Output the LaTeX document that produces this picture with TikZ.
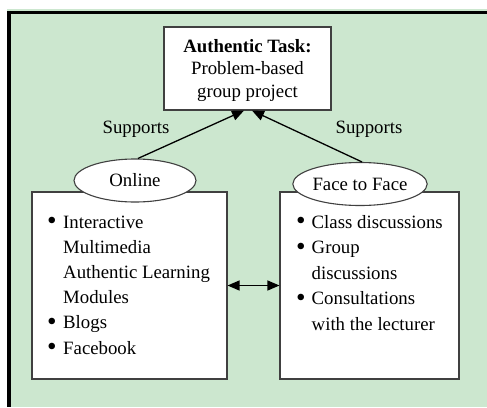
\documentclass[tikz,border=0pt]{standalone}
\usepackage{fontspec}
\usepackage{graphicx}
\setmainfont{Liberation Serif}
\usetikzlibrary{arrows.meta,shapes.geometric}
\definecolor{panelgreen}{RGB}{204,231,207}
% one bulleted paragraph with a hanging indent
\newcommand{\bigdot}{\raisebox{-1.6pt}{\scalebox{1.45}{•}}}
\newcommand{\bulletline}[2]{\par\hangindent=#1\hangafter=1\noindent\makebox[#1][l]{\bigdot}#2}
\begin{document}
\begin{tikzpicture}[x=1pt,y=-1pt,
  card/.style={draw=black!75, line width=1.1pt, fill=white, inner sep=0pt},
  tag/.style={ellipse, draw=black!75, line width=1.1pt, fill=white,
    minimum width=122pt, minimum height=43pt, inner sep=0pt,
    font=\fontsize{18.8}{22}\selectfont},
  link/.style={line width=1.3pt, -{Triangle[length=12pt,width=10pt]}},
  twoway/.style={line width=1.3pt, {Triangle[length=12pt,width=10pt]}-{Triangle[length=12pt,width=10pt]}},
  body/.style={inner sep=0pt, anchor=base west, font=\fontsize{18.8}{25.3}\selectfont},
  caption/.style={inner sep=0pt, anchor=base, font=\fontsize{18.8}{22}\selectfont}]

\useasboundingbox (0,0) rectangle (487,407);
\fill[white] (0,0) rectangle (487,407);

% green panel with its thick top and left border
\fill[panelgreen] (7,9) rectangle (487,407);
\draw[line width=3.2pt] (7,12.5) -- (487,12.5);
\draw[line width=4pt] (9,10.9) -- (9,407);

% boxes
\node[card, minimum width=167pt, minimum height=83pt] (task) at (247.5,68.5) {};
\node[card, minimum width=195pt, minimum height=187pt] (online box) at (129.5,285.5) {};
\node[card, minimum width=179pt, minimum height=187pt] (face box) at (369.5,285.5) {};

% headings of the two columns
\node[tag] (online) at (135,180.5) {Online};
\node[tag] (face) at (360,184) {Face to Face};

% task text
\node[caption] (task text) at (247.5,52) {%
  \begin{minipage}[t]{160pt}\centering
  \fontsize{18.8}{22.5}\selectfont
  \textbf{Authentic Task:}\\Problem-based\\group project
  \end{minipage}};

% lists
\node[body] (online list) at (47,228) {%
  \begin{minipage}[t]{176pt}\raggedright
  \fontsize{18.8}{25.2}\selectfont
  \bulletline{16pt}{Interactive\newline Multimedia\newline Authentic Learning\newline Modules}
  \bulletline{16pt}{Blogs}
  \bulletline{16pt}{Facebook}
  \end{minipage}};
\node[body] (face list) at (296,228) {%
  \begin{minipage}[t]{160pt}\raggedright
  \fontsize{18.8}{25.6}\selectfont
  \bulletline{15.5pt}{Class discussions}
  \bulletline{15.5pt}{Group\newline discussions}
  \bulletline{15.5pt}{Consultations\newline with the lecturer}
  \end{minipage}};

% connectors
\draw[link] ([xshift=3pt]online.north) -- ([xshift=-3.5pt]task.south);
\draw[link] ([xshift=2pt]face.north) -- ([xshift=4.5pt]task.south);
\draw[twoway] (online box.east) -- (face box.west);

% connector labels
\node[caption] (left label) at (136,133) {Supports};
\node[caption] (right label) at (369,133) {Supports};
\end{tikzpicture}
\end{document}
